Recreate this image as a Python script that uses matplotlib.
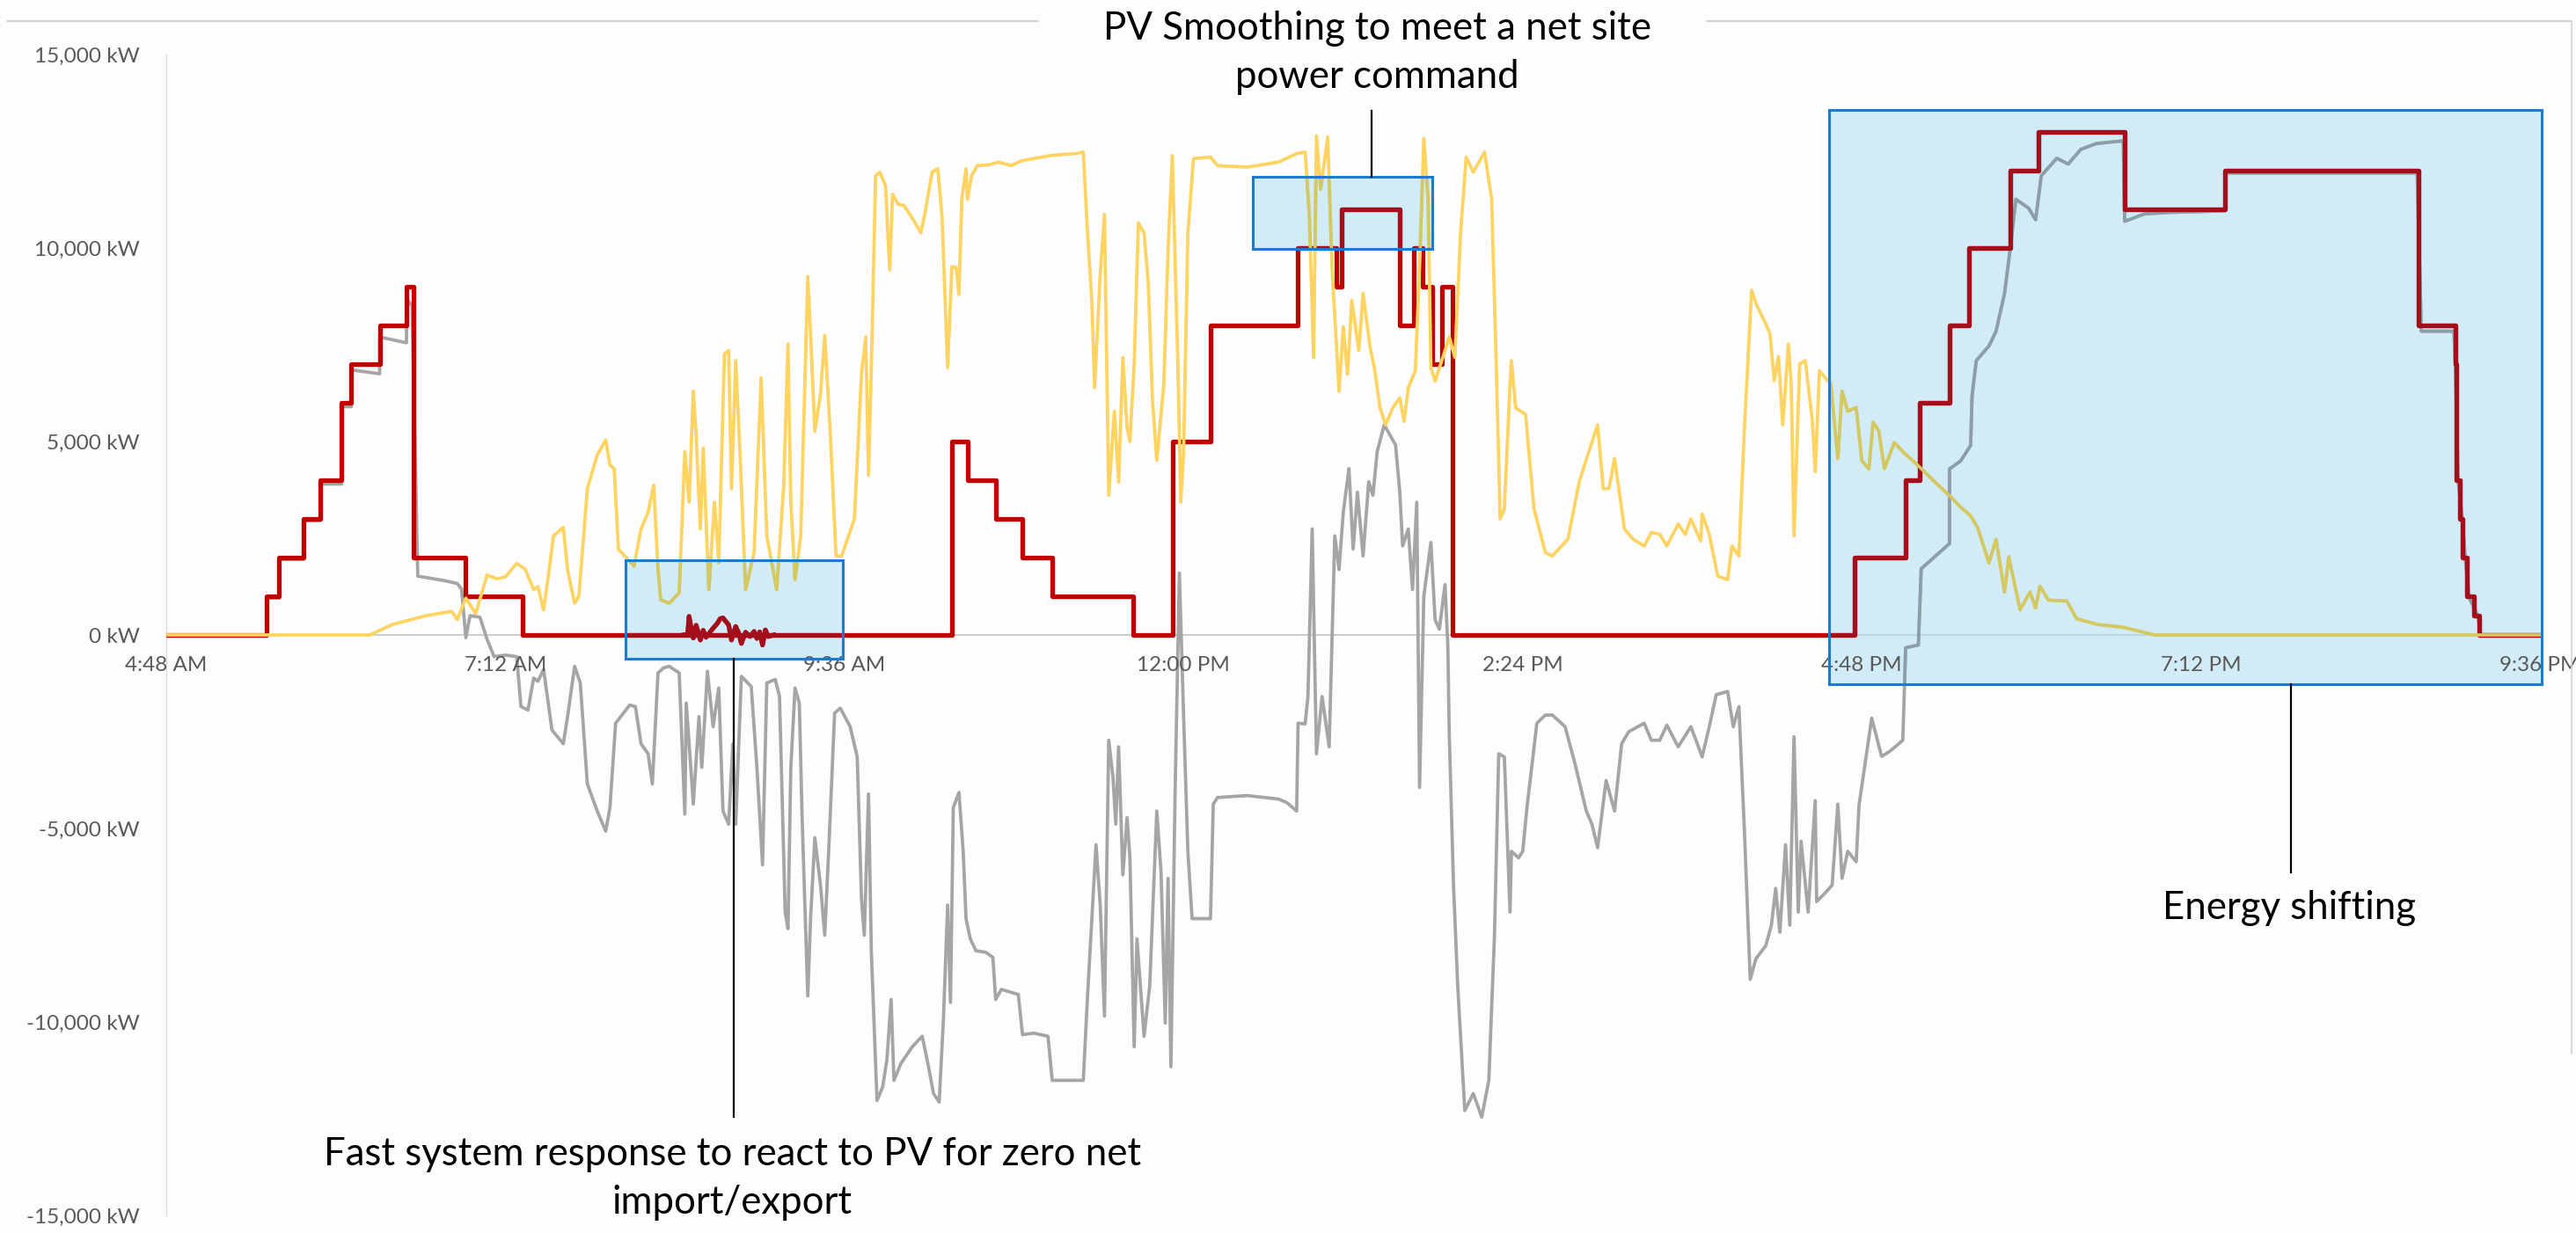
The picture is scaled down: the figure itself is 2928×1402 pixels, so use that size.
import matplotlib
matplotlib.use('Agg')
import matplotlib.pyplot as plt
from matplotlib import font_manager
from matplotlib.patches import Rectangle
from matplotlib.lines import Line2D
from matplotlib.ticker import FuncFormatter

# pick a narrow face if there is one (chart was made with Calibri)
names = {f.name for f in font_manager.fontManager.ttflist}
if 'Liberation Sans Narrow' in names:
    FONT, TICK_FS, NOTE_FS = 'Liberation Sans Narrow', 19, 33
else:
    FONT, TICK_FS, NOTE_FS = 'Lato', 17.5, 31.5
plt.rcParams['font.family'] = [FONT, 'DejaVu Sans']

# ---- data, hour of day vs kW ----
pv_hours = [4.80, 6.24, 6.40, 6.64, 6.82, 6.86, 6.92, 6.99, 7.07, 7.14, 7.20, 7.28, 7.34, 7.40, 7.43,
            7.47, 7.51, 7.54, 7.61, 7.64, 7.66, 7.69, 7.72, 7.78, 7.85, 7.91, 7.94, 7.97, 8.00, 8.07,
            8.11, 8.16, 8.21, 8.25, 8.28, 8.30, 8.36, 8.43, 8.47, 8.50, 8.53, 8.55, 8.58, 8.60, 8.64,
            8.68, 8.71, 8.75, 8.78, 8.80, 8.83, 8.86, 8.90, 8.96, 9.01, 9.05, 9.12, 9.17, 9.20, 9.22,
            9.25, 9.29, 9.34, 9.36, 9.39, 9.43, 9.46, 9.50, 9.54, 9.58, 9.67, 9.72, 9.75, 9.77, 9.79,
            9.82, 9.85, 9.89, 9.92, 9.94, 9.98, 10.02, 10.07, 10.10, 10.14, 10.17, 10.22, 10.26, 10.29,
            10.33, 10.36, 10.39, 10.41, 10.43, 10.46, 10.47, 10.50, 10.54, 10.62, 10.69, 10.78, 10.85,
            10.92, 11.00, 11.06, 11.15, 11.24, 11.29, 11.32, 11.35, 11.37, 11.41, 11.44, 11.47, 11.51,
            11.54, 11.57, 11.60, 11.62, 11.65, 11.68, 11.72, 11.75, 11.78, 11.81, 11.86, 11.89, 11.92,
            11.96, 11.98, 12.00, 12.03, 12.07, 12.19, 12.24, 12.45, 12.67, 12.80, 12.86, 12.89, 12.92,
            12.94, 12.97, 13.02, 13.05, 13.10, 13.13, 13.16, 13.19, 13.24, 13.27, 13.32, 13.35, 13.39,
            13.43, 13.48, 13.53, 13.56, 13.59, 13.64, 13.67, 13.70, 13.73, 13.75, 13.78, 13.85, 13.88,
            13.92, 13.96, 14.00, 14.05, 14.13, 14.18, 14.21, 14.24, 14.27, 14.31, 14.32, 14.35, 14.42,
            14.48, 14.56, 14.61, 14.72, 14.80, 14.86, 14.93, 14.97, 15.01, 15.05, 15.12, 15.18, 15.26,
            15.31, 15.37, 15.42, 15.50, 15.55, 15.59, 15.66, 15.67, 15.72, 15.78, 15.85, 15.88, 15.93,
            15.97, 16.02, 16.05, 16.12, 16.15, 16.18, 16.21, 16.24, 16.28, 16.30, 16.32, 16.36, 16.40,
            16.45, 16.47, 16.50, 16.58, 16.63, 16.66, 16.70, 16.76, 16.80, 16.85, 16.88, 16.92, 16.96,
            17.03, 17.10, 17.18, 17.33, 17.44, 17.50, 17.57, 17.62, 17.70, 17.75, 17.81, 17.84, 17.92,
            17.99, 18.03, 18.06, 18.12, 18.25, 18.32, 18.47, 18.65, 18.87, 21.60]
pv_kw = [0, 0, 270, 500, 610, 400, 950, 550, 1550, 1450, 1500, 1850, 1700, 1170, 1250,
         650, 1690, 2560, 2780, 1690, 1330, 820, 1000, 3780, 4650, 5040, 4390, 4300, 2215, 1950,
         1780, 2740, 3170, 3870, 1690, 910, 820, 1090, 4740, 3430, 6300, 5170, 2740, 4830, 1170,
         3430, 1870, 7260, 7350, 3780, 7090, 4740, 1170, 2130, 6650, 2560, 1170, 3870, 7520, 3430,
         1430, 2560, 9260, 7780, 5260, 6220, 7740, 5170, 2040, 2040, 3000, 6740, 7700, 4130, 6910,
         11870, 11960, 11610, 9430, 11390, 11130, 11100, 10830, 10650, 10390, 10910, 11960, 12050, 10830,
         6910, 9520, 9500, 8800, 11260, 12050, 11260, 11870, 12130, 12150, 12220, 12130, 12250,
         12300, 12350, 12390, 12420, 12440, 12480, 10390, 8650, 6390, 9350, 10870, 3610, 5780,
         3950, 7170, 5350, 5000, 7000, 10650, 10390, 9090, 6040, 4520, 6480, 9960, 12390,
         6910, 3430, 4740, 10390, 12310, 12350, 12130, 12090, 12220, 12440, 12480, 10830, 7170,
         12900, 11520, 12870, 9520, 6300, 7960, 6740, 8650, 7350, 8830, 7430, 6910, 5870,
         5430, 5870, 6130, 5520, 6390, 6830, 9520, 12830, 11260, 6910, 6560, 7350, 7700,
         7170, 10390, 12350, 11960, 12480, 11260, 7350, 3000, 3260, 6480, 7090, 5870, 5700,
         3260, 2130, 2040, 2480, 3960, 4650, 5430, 3780, 3780, 4560, 2740, 2480, 2300,
         2650, 2600, 2300, 2870, 2600, 3000, 2430, 3130, 2600, 1520, 1430, 2300, 2040,
         5430, 8910, 8570, 8040, 7780, 6570, 7200, 5430, 7520, 6500, 2560, 7000, 7090,
         5520, 4220, 6830, 6480, 4560, 6300, 5780, 5880, 4500, 4290, 5500, 5270, 4300,
         4970, 4700, 4440, 3910, 3530, 3300, 3080, 2770, 1860, 2470, 1110, 2020, 650,
         1110, 700, 1260, 900, 880, 420, 270, 200, 0, 0]

net_hours = [4.80, 5.51, 5.51, 5.60, 5.60, 5.77, 5.77, 5.89, 5.89, 6.04, 6.04, 6.11, 6.11, 6.31, 6.31,
             6.50, 6.50, 6.54, 6.58, 6.76, 6.86, 6.89, 6.92, 6.95, 7.02, 7.07, 7.12, 7.20, 7.28, 7.31,
             7.36, 7.40, 7.43, 7.47, 7.53, 7.61, 7.64, 7.66, 7.69, 7.73, 7.78, 7.85, 7.91, 7.94, 7.98,
             8.08, 8.12, 8.16, 8.21, 8.24, 8.28, 8.32, 8.36, 8.43, 8.47, 8.48, 8.53, 8.57, 8.59, 8.63,
             8.67, 8.71, 8.74, 8.78, 8.81, 8.83, 8.87, 8.94, 8.98, 9.02, 9.05, 9.11, 9.14, 9.18, 9.20,
             9.22, 9.25, 9.28, 9.30, 9.34, 9.36, 9.39, 9.43, 9.46, 9.49, 9.53, 9.57, 9.64, 9.69, 9.72,
             9.74, 9.77, 9.79, 9.83, 9.87, 9.90, 9.93, 9.95, 10.00, 10.08, 10.15, 10.19, 10.23, 10.27,
             10.30, 10.33, 10.35, 10.37, 10.41, 10.44, 10.46, 10.49, 10.53, 10.60, 10.65, 10.67, 10.71,
             10.83, 10.86, 10.94, 11.04, 11.07, 11.29, 11.32, 11.36, 11.38, 11.41, 11.44, 11.47, 11.50,
             11.52, 11.54, 11.57, 11.60, 11.62, 11.65, 11.67, 11.72, 11.76, 11.81, 11.84, 11.87, 11.89,
             11.91, 11.94, 11.97, 12.00, 12.03, 12.06, 12.19, 12.21, 12.24, 12.45, 12.67, 12.73, 12.80,
             12.81, 12.86, 12.88, 12.91, 12.94, 12.98, 13.03, 13.07, 13.10, 13.13, 13.17, 13.20, 13.23,
             13.27, 13.31, 13.34, 13.37, 13.42, 13.46, 13.50, 13.53, 13.55, 13.59, 13.62, 13.65, 13.67,
             13.70, 13.75, 13.78, 13.81, 13.85, 13.87, 13.88, 13.91, 13.94, 13.99, 14.05, 14.11, 14.16,
             14.20, 14.23, 14.27, 14.31, 14.32, 14.37, 14.40, 14.43, 14.50, 14.56, 14.61, 14.70, 14.77,
             14.85, 14.89, 14.93, 14.99, 15.05, 15.10, 15.15, 15.26, 15.31, 15.37, 15.42, 15.50, 15.55,
             15.59, 15.67, 15.72, 15.77, 15.85, 15.89, 15.93, 15.97, 16.01, 16.05, 16.12, 16.16, 16.19,
             16.22, 16.26, 16.29, 16.32, 16.35, 16.37, 16.42, 16.47, 16.48, 16.55, 16.59, 16.63, 16.66,
             16.70, 16.76, 16.78, 16.87, 16.94, 17.00, 17.09, 17.11, 17.20, 17.22, 17.42, 17.42, 17.50,
             17.57, 17.58, 17.61, 17.70, 17.75, 17.81, 17.85, 17.89, 17.98, 18.03, 18.07, 18.18, 18.26,
             18.35, 18.46, 18.65, 18.66, 18.80, 18.97, 19.37, 19.37, 20.73, 20.76, 20.99, 21.00, 21.02,
             21.05, 21.07, 21.10, 21.16, 21.18, 21.60]
net_kw = [0, 0, 950, 950, 1950, 1950, 2950, 2950, 3900, 3900, 5900, 5900, 6850, 6750, 7700,
          7550, 8700, 8500, 1520, 1410, 1330, 1180, -70, 500, 460, -110, -560, -520, -560, -1850,
          -1940, -1110, -1200, -890, -2460, -2810, -2110, -1590, -810, -1240, -3850, -4550, -5070, -4460, -2280,
          -1810, -1850, -2810, -3070, -3850, -980, -850, -810, -980, -4630, -1760, -4370, -2110, -3420, -940,
          -2370, -1370, -4550, -4890, -2810, -4890, -1070, -1330, -3420, -5940, -1240, -1150, -1590, -7160, -7590,
          -3420, -1370, -1760, -4720, -9330, -7330, -5240, -6460, -7760, -5420, -2020, -1890, -2370, -3150, -6810,
          -7760, -4110, -8200, -12030, -11680, -10980, -9420, -11510, -11070, -10640, -10370, -11070, -11850, -12070,
          -9940, -6980, -9500, -4460, -4070, -5590, -7330, -7850, -8160, -8200, -8330, -9420, -9160,
          -9290, -10330, -10290, -10370, -11510, -11510, -9330, -6720, -5420, -6980, -9850, -2720, -3680,
          -4890, -2890, -6200, -4720, -5760, -10640, -7850, -10370, -9070, -4550, -6110, -10030, -6290,
          -11160, -4000, 1600, -2110, -5590, -7330, -7330, -4370, -4200, -4150, -4240, -4330, -4550,
          -2280, -2300, -1590, 2740, -3070, -1590, -2890, 2560, 1690, 3170, 4300, 2220, 3690,
          2040, 3960, 3610, 4740, 5430, 5170, 4910, 3690, 2300, 2740, 1170, 3430, -3940,
          1000, 2390, 390, 150, 1300, -280, -2550, -6460, -9070, -12290, -11850, -12460, -11510,
          -7760, -3070, -3150, -7160, -5590, -5760, -5590, -4460, -2280, -2070, -2070, -2370, -3330,
          -4550, -4890, -5500, -3760, -4550, -2810, -2500, -2280, -2720, -2720, -2330, -2890, -2600,
          -2370, -3150, -2370, -1540, -1460, -2370, -1850, -5150, -8900, -8370, -8030, -7500, -6550,
          -7680, -5420, -7500, -2630, -7160, -5330, -7160, -4280, -6890, -6630, -6460, -4370, -6290,
          -5590, -5860, -4400, -2150, -3140, -3000, -2720, -330, -260, 1710, 2360, 4290, 4500,
          4900, 6180, 7090, 7470, 7850, 8830, 9970, 11260, 11030, 10730, 11870, 12320, 12170,
          12550, 12700, 12770, 10690, 10880, 10920, 10960, 11940, 11940, 7850, 7850, 7000, 4000,
          3000, 2000, 950, 500, 0, 0]

# battery set-points: each value holds from its hour until the next one
batt_hours = [4.80, 5.51, 5.60, 5.77, 5.89, 6.04, 6.11, 6.31, 6.50, 6.55, 6.92, 7.32,
              10.36, 10.47, 10.67, 10.86, 11.07, 11.64, 11.92, 12.19, 12.81,
              13.08, 13.12, 13.53, 13.63, 13.69, 13.76, 13.83, 13.90, 16.75, 17.11, 17.21, 17.42,
              17.56, 17.85, 18.05, 18.66, 19.37, 20.74, 21.00, 21.01, 21.03, 21.05, 21.08, 21.13,
              21.17, 21.60]
batt_kw = [0, 1000, 2000, 3000, 4000, 6000, 7000, 8000, 9000, 2000, 1000, 0,
           5000, 4000, 3000, 2000, 1000, 0, 5000, 8000, 10000,
           9000, 11000, 8000, 10000, 9000, 7000, 9000, 0, 2000, 4000, 6000, 8000,
           10000, 12000, 13000, 11000, 12000, 8000, 7000, 4000, 3000, 2000, 1000, 500,
           0, 0]
# fast battery response around 8:30-9:05 AM
ripple_hours = [8.46, 8.49, 8.50, 8.52, 8.53, 8.55, 8.58, 8.60, 8.62, 8.66, 8.70, 8.72, 8.74, 8.76,
                8.78, 8.80, 8.83, 8.85, 8.87, 8.90, 8.93, 8.96, 8.98, 9.00, 9.02, 9.04, 9.06, 9.10]
ripple_kw = [0, 20, 480, 60, -80, 250, -130, 120, -60, 130, 300, 420, 440, 350,
             260, -130, 220, 60, -220, 70, -40, 90, -90, 80, -260, 130, -40, 0]

tick_hours = [4.8, 7.2, 9.6, 12.0, 14.4, 16.8, 19.2, 21.6]
tick_labels = ['4:48 AM', '7:12 AM', '9:36 AM', '12:00 PM', '2:24 PM', '4:48 PM', '7:12 PM', '9:36 PM']
y_ticks = [-15000, -10000, -5000, 0, 5000, 10000, 15000]

# highlighted windows: (start hour, end hour, low kW, high kW)
boxes = [(8.05, 9.59, -614, 1932),
         (12.49, 13.76, 9977, 11841),
         (16.57, 21.61, -1273, 13568)]

YELLOW, GRAY, RED = '#fdd462', '#a5a5a5', '#c00000'
# colours of the lines seen through the blue boxes
YELLOW_IN, GRAY_IN, RED_IN = '#d3c862', '#8d9ea6', '#a3101c'

fig = plt.figure(figsize=(29.28, 14.02), dpi=100)
fig.patch.set_facecolor('#fdfdfd')
ax = fig.add_axes([0.06455, 0.01427, 0.9215, 0.9415])
ax.set_facecolor('#fdfdfd')

# (x, y, colour, colour inside box, width, drawstyle, zorder)
series = [(net_hours, net_kw, GRAY, GRAY_IN, 2.7, 'default', 2),
          (batt_hours, batt_kw, RED, RED_IN, 3.8, 'steps-post', 3),
          (ripple_hours, ripple_kw, RED, RED_IN, 3.8, 'default', 3),
          (pv_hours, pv_kw, YELLOW, YELLOW_IN, 2.7, 'default', 4)]

for hx, ky, col, _, lw, ds, z in series:
    ax.plot(hx, ky, color=col, lw=lw, drawstyle=ds, zorder=z, solid_joinstyle='round')

for (h0, h1, k0, k1) in boxes:
    fill = Rectangle((h0, k0), h1 - h0, k1 - k0, facecolor='#a9dcf3', alpha=0.5,
                     edgecolor='none', zorder=5, clip_on=False)
    ax.add_patch(fill)
    for hx, ky, _, col_in, lw, ds, z in series:
        ln, = ax.plot(hx, ky, color=col_in, lw=lw, drawstyle=ds, zorder=6 + z,
                      solid_joinstyle='round')
        ln.set_clip_path(fill)
    ax.add_patch(Rectangle((h0, k0), h1 - h0, k1 - k0, facecolor='none',
                           edgecolor='#1b7bd1', lw=2.2, zorder=12, clip_on=False))

# leader lines from the boxes to the notes
ax.plot([13.33, 13.33], [11841, 13550], color='black', lw=1.6, clip_on=False, zorder=12)
ax.plot([8.816, 8.816], [-614, -12455], color='black', lw=1.6, clip_on=False, zorder=12)
ax.plot([19.836, 19.836], [-1273, -6137], color='black', lw=1.6, clip_on=False, zorder=12)

ax.set_xlim(4.8, 21.6)
ax.set_ylim(-15000, 15000)
ax.set_yticks(y_ticks)
ax.yaxis.set_major_formatter(FuncFormatter(lambda v, p: f'{v:,.0f} kW'))
ax.set_xticks(tick_hours)
ax.set_xticklabels(tick_labels)
ax.tick_params(axis='both', length=0, labelsize=TICK_FS, labelcolor='#595959')
ax.tick_params(axis='y', pad=22)
ax.tick_params(axis='x', pad=17)
for lab in ax.get_xticklabels():
    lab.set_clip_on(False)
ax.xaxis.set_zorder(5.5)  # labels stay dark under the blue box

for side in ['top', 'right']:
    ax.spines[side].set_visible(False)
ax.spines['left'].set_color('#d9d9d9')
ax.spines['left'].set_linewidth(1.0)
ax.spines['bottom'].set_position(('data', 0))
ax.spines['bottom'].set_color('#bfbfbf')
ax.spines['bottom'].set_linewidth(1.1)
ax.spines['bottom'].set_zorder(1)

# frame lines left over from the screenshot
fig.add_artist(Line2D([8 / 2928, 1180 / 2928], [0.9829, 0.9829], color='#c4c4c4', lw=1.1))
fig.add_artist(Line2D([1940 / 2928, 2922 / 2928], [0.9829, 0.9829], color='#c4c4c4', lw=1.1))
fig.add_artist(Line2D([2923 / 2928, 2923 / 2928], [0.9829, 0.1455], color='#d0d0d0', lw=1.1))

fig.text(0.5345, 0.957, 'PV Smoothing to meet a net site\npower command', ha='center', va='center',
         fontsize=NOTE_FS, color='black', linespacing=1.42)
fig.text(0.2842, 0.0442, 'Fast system response to react to PV for zero net\nimport/export',
         ha='center', va='center', fontsize=NOTE_FS, color='black', linespacing=1.42)
fig.text(0.8887, 0.2639, 'Energy shifting', ha='center', va='center', fontsize=NOTE_FS, color='black')

fig.savefig('out.png', dpi=100, facecolor=fig.get_facecolor())
